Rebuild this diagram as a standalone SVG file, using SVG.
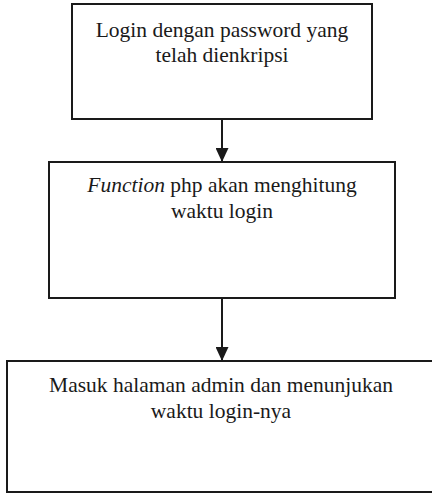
<svg xmlns="http://www.w3.org/2000/svg" width="432" height="494" viewBox="0 0 432 494">
<style>
.box{fill:#fff;stroke:#1a1a1a;stroke-width:2}
.t{font-size:21.5px;fill:#1a1a1a;text-anchor:middle}
.c{stroke:#1a1a1a;stroke-width:2;fill:none}
</style>
<defs>
<marker id="ah" markerWidth="14" markerHeight="13" refX="14" refY="6.5" orient="auto" markerUnits="userSpaceOnUse">
<path d="M0,0 L14,6.5 L0,13 Z" fill="#1a1a1a"/>
</marker>
</defs>
<rect width="432" height="494" fill="#fff"/>
<g id="connectors">
<line class="c" x1="222" y1="119" x2="222" y2="162" marker-end="url(#ah)"/>
<line class="c" x1="222" y1="298" x2="222" y2="361" marker-end="url(#ah)"/>
</g>
<g font-family="'Liberation Serif', 'Times New Roman', 'DejaVu Serif', serif">
<g id="node1">
<rect class="box" x="72" y="4" width="300" height="115"/>
<text class="t" x="222" y="37">Login dengan password yang</text>
<text class="t" x="222" y="62">telah dienkripsi</text>
</g>
<g id="node2">
<rect class="box" x="49" y="162" width="346" height="136"/>
<text class="t" x="222" y="192"><tspan font-style="italic">Function</tspan> php akan menghitung</text>
<text class="t" x="222" y="218">waktu login</text>
</g>
<g id="node3">
<rect class="box" x="7" y="361" width="432" height="131"/>
<text class="t" x="221" y="392">Masuk halaman admin dan menunjukan</text>
<text class="t" x="221" y="418">waktu login-nya</text>
</g>
</g>
</svg>
